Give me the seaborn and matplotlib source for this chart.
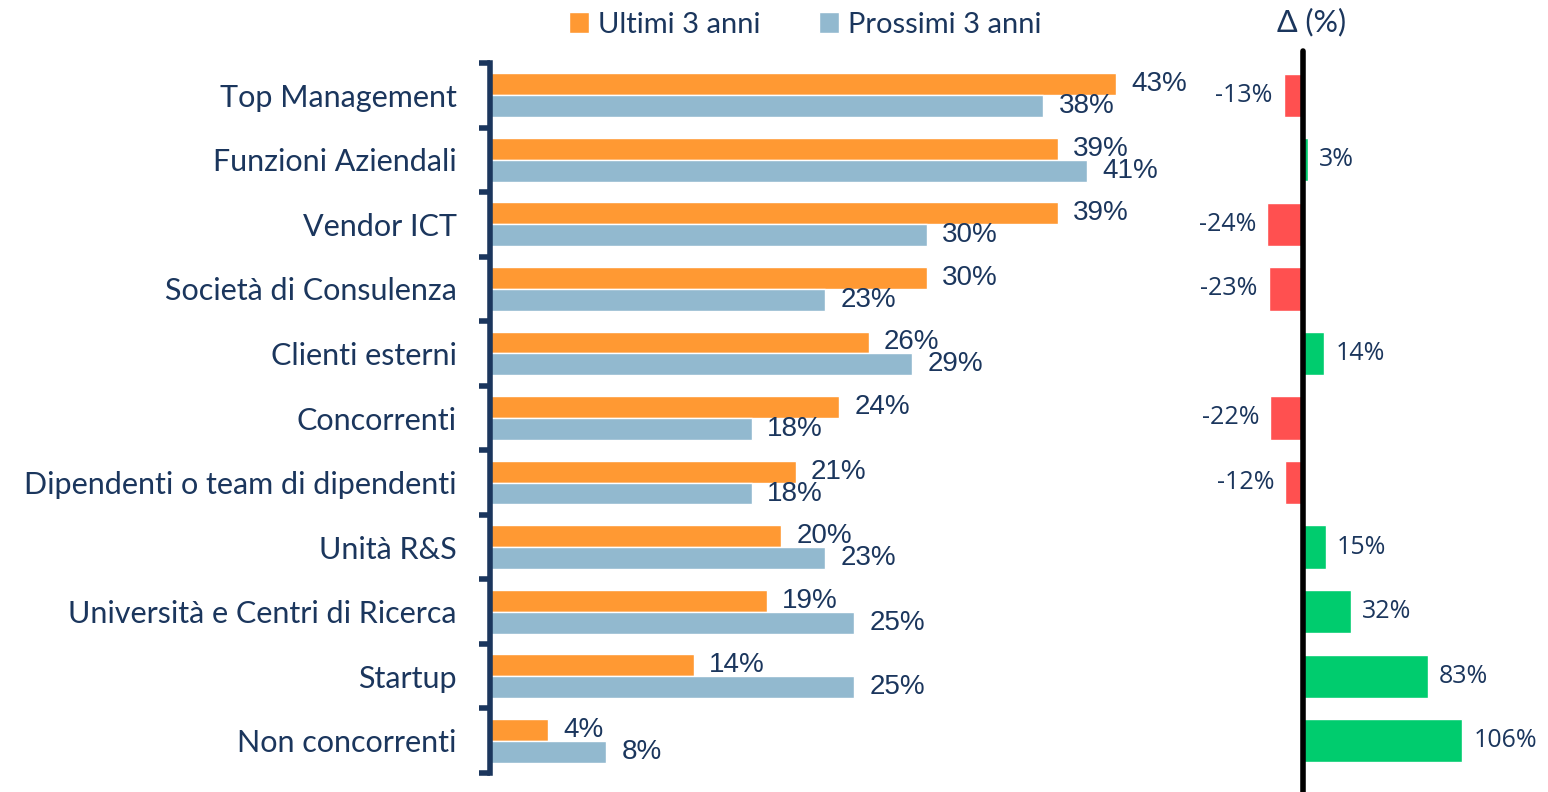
import matplotlib
matplotlib.use("Agg")
import matplotlib.pyplot as plt
import pandas as pd
import seaborn as sns

categories = [
    "Top Management", "Funzioni Aziendali", "Vendor ICT", "Società di Consulenza",
    "Clienti esterni", "Concorrenti", "Dipendenti o team di dipendenti", "Unità R&S",
    "Università e Centri di Ricerca", "Startup", "Non concorrenti",
]
ultimi = [43, 39, 39, 30, 26, 24, 21, 20, 19, 14, 4]
prossimi = [38, 41, 30, 23, 29, 18, 18, 23, 25, 25, 8]
delta = [-13, 3, -24, -23, 14, -22, -12, 15, 32, 83, 106]
series = ["Ultimi 3 anni", "Prossimi 3 anni"]

NAVY = "#1B365D"
ORANGE = "#FF9933"
BLUE = "#92B9CF"
RED = "#FF5050"
GREEN = "#00CC6E"

sns.set_style("white")
plt.rcParams["font.family"] = ["Lato", "DejaVu Sans"]

long = pd.DataFrame({
    "cat": categories * 2,
    "val": ultimi + prossimi,
    "serie": [series[0]] * len(categories) + [series[1]] * len(categories),
})
dd = pd.DataFrame({"cat": categories, "delta": delta,
                   "segno": ["neg" if d < 0 else "pos" for d in delta]})

W, H = 1548, 792
fig = plt.figure(figsize=(W / 100, H / 100), dpi=100)
top, bot = 63, 773
ax = fig.add_axes([490 / W, 1 - bot / H, 728 / W, (bot - top) / H])
ax2 = fig.add_axes([1180 / W, 1 - bot / H, 368 / W, (bot - top) / H])

sns.barplot(data=long, x="val", y="cat", hue="serie", orient="h",
            palette=[ORANGE, BLUE], width=0.68, gap=0, ax=ax, saturation=1)
for c in ax.containers:
    ax.bar_label(c, fmt="{:.0f}%", padding=11, fontsize=20, color=NAVY,
                 family="Liberation Sans")
ax.set_xlim(0, 50)
ax.set_ylim(10.5, -0.5)
ax.set_xlabel("")
ax.set_ylabel("")
ax.set_xticks([])
ax.tick_params(axis="y", which="major", length=0, pad=24, labelsize=22, labelcolor=NAVY)
ax.set_yticks([i - 0.5 for i in range(len(categories) + 1)], minor=True)
ax.tick_params(axis="y", which="minor", left=True, length=8, width=4, color=NAVY,
               direction="out")
for s in ["top", "right", "bottom"]:
    ax.spines[s].set_visible(False)
ax.spines["left"].set_color(NAVY)
ax.spines["left"].set_linewidth(4)
sns.move_legend(ax, "center", bbox_to_anchor=(0.433, 1.054), ncol=2, frameon=False,
                title=None, fontsize=21, handlelength=0.7, handleheight=0.7,
                columnspacing=2.0, handletextpad=0.3, labelcolor=NAVY)

sns.barplot(data=dd, x="delta", y="cat", hue="segno", orient="h",
            palette={"neg": RED, "pos": GREEN}, width=0.67, dodge=False,
            legend=False, ax=ax2, saturation=1)
for c in ax2.containers:
    ax2.bar_label(c, fmt="{:.0f}%", padding=8, fontsize=18, color=NAVY,
                  family="Open Sans")
ax2.set_xlim(-82, 163)
ax2.set_ylim(10.5, -0.5)
ax2.axis("off")
ax2.axvline(0, ymin=-0.03, ymax=1.017, color="black", lw=4, clip_on=False)
fig.text(1312 / W, 1 - 22 / H, "Δ (%)", ha="center", va="center", fontsize=22, color=NAVY)

fig.savefig("out.png", dpi=100)
